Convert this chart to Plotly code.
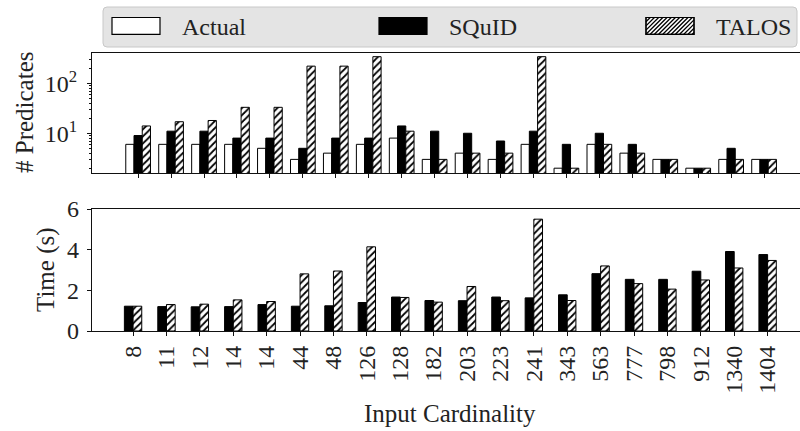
import plotly.graph_objects as go

# ---------------- data ----------------
labels = ["8", "11", "12", "14", "14", "44", "48", "126", "128", "182",
          "203", "223", "241", "343", "563", "777", "798", "912", "1340", "1404"]
pred_actual = [6, 6, 6, 6, 5, 3, 4, 6, 8, 3, 4, 3, 6, 2, 6, 4, 3, 2, 3, 3]
pred_squid = [9, 11, 11, 8, 8, 5, 8, 8, 14, 11, 10, 7, 11, 6, 10, 6, 3, 2, 5, 3]
pred_talos = [14, 17, 18, 33, 33, 220, 220, 340, 11, 3, 4, 4, 340, 2, 6, 4, 3, 2, 3, 3]
time_squid = [1.22, 1.20, 1.19, 1.20, 1.30, 1.22, 1.24, 1.40, 1.67, 1.50,
              1.49, 1.67, 1.63, 1.78, 2.82, 2.54, 2.54, 2.94, 3.91, 3.76]
time_talos = [1.22, 1.30, 1.32, 1.53, 1.45, 2.81, 2.95, 4.14, 1.65, 1.42,
              2.19, 1.49, 5.50, 1.50, 3.20, 2.33, 2.06, 2.51, 3.10, 3.47]
series_names = ["Actual", "SQuID", "TALOS"]

idx = list(range(len(labels)))

W, H = 800, 431
FONT = "Liberation Serif"
FS = 24


def px(x):
    return x / W


def py(y):
    return 1 - y / H


edge = dict(color="black", width=1)
hatch = dict(shape="/", fgcolor="black", bgcolor="white", size=5, solidity=0.35, fillmode="replace")

fig = go.Figure()
# top panel: predicates
fig.add_trace(go.Bar(x=idx, y=pred_actual, width=0.25, offset=-0.375, name=series_names[0],
                     marker=dict(color="white", line=edge), xaxis="x", yaxis="y", showlegend=False))
fig.add_trace(go.Bar(x=idx, y=pred_squid, width=0.25, offset=-0.125, name=series_names[1],
                     marker=dict(color="black", line=edge), xaxis="x", yaxis="y", showlegend=False))
fig.add_trace(go.Bar(x=idx, y=pred_talos, width=0.25, offset=0.125, name=series_names[2],
                     marker=dict(color="white", line=edge, pattern=hatch), xaxis="x", yaxis="y", showlegend=False))
# bottom panel: time
fig.add_trace(go.Bar(x=idx, y=time_squid, width=0.26, offset=-0.26, name=series_names[1],
                     marker=dict(color="black", line=edge), xaxis="x2", yaxis="y2", showlegend=False))
fig.add_trace(go.Bar(x=idx, y=time_talos, width=0.26, offset=0.0, name=series_names[2],
                     marker=dict(color="white", line=edge, pattern=hatch), xaxis="x2", yaxis="y2", showlegend=False))

axis_common = dict(showgrid=False, zeroline=False, showline=True, linecolor="#111", linewidth=1.3,
                   ticks="outside", ticklen=4, tickwidth=1.2, tickcolor="#111", automargin=False,
                   tickfont=dict(family=FONT, size=FS, color="#222"))

minor_vals = [v * m for m in (1, 10, 100) for v in range(2, 10) if 1.6 < v * m < 398]

fig.update_layout(
    width=W, height=H,
    margin=dict(l=0, r=0, t=0, b=0, autoexpand=False),
    paper_bgcolor="white", plot_bgcolor="white",
    barmode="overlay",
    font=dict(family=FONT, size=FS, color="#222"),
    xaxis=dict(domain=[px(92), 1], range=[-1.40, 20.09], anchor="y", tickmode="array",
               tickvals=idx, showticklabels=False, mirror=True, **axis_common),
    yaxis=dict(domain=[py(173), py(53)], type="log", range=[0.205, 2.605], anchor="x",
               tickmode="array", tickvals=[10, 100], ticktext=["10<sup>1</sup>", "10<sup>2</sup>"],
               ticklabelstandoff=5,
               minor=dict(tickmode="array", tickvals=minor_vals, ticks="outside", ticklen=2,
                          tickcolor="#111", tickwidth=1),
               **axis_common),
    xaxis2=dict(domain=[px(92), 1], range=[-1.23, 19.97], anchor="y2", tickmode="array",
                tickvals=idx, ticktext=labels, tickangle=-90, mirror=True, **axis_common),
    yaxis2=dict(domain=[py(331), py(209)], range=[0, 6], anchor="x2", tickmode="array",
                tickvals=[0, 2, 4, 6], ticklabelstandoff=3, **axis_common),
)

annotations = [
    dict(text="# Predicates", x=px(25), y=py(113), textangle=-90),
    dict(text="Time (s)", x=px(46), y=py(270), textangle=-90),
    dict(text="Input Cardinality", x=px(450), y=py(413)),
]
for a in annotations:
    a.update(xref="paper", yref="paper", showarrow=False, xanchor="center", yanchor="middle",
             font=dict(family=FONT, size=25, color="#222"))

# ---- legend (drawn manually to mimic the boxed, expanded legend) ----
shapes = []
bx0, bx1, by0, by1, r = 103, 797, 7, 47, 4
path = (f"M {px(bx0 + r)},{py(by0)} L {px(bx1 - r)},{py(by0)} "
        f"Q {px(bx1)},{py(by0)} {px(bx1)},{py(by0 + r)} L {px(bx1)},{py(by1 - r)} "
        f"Q {px(bx1)},{py(by1)} {px(bx1 - r)},{py(by1)} L {px(bx0 + r)},{py(by1)} "
        f"Q {px(bx0)},{py(by1)} {px(bx0)},{py(by1 - r)} L {px(bx0)},{py(by0 + r)} "
        f"Q {px(bx0)},{py(by0)} {px(bx0 + r)},{py(by0)} Z")
shapes.append(dict(type="path", path=path, xref="paper", yref="paper",
                   fillcolor="#e4e4e4", line=dict(color="#c8c8c8", width=1), layer="above"))

pw, p_y0, p_y1 = 48, 17.5, 34.3
col_x = [112, 379, 646]
fills = ["white", "black", "white"]
for cx, fc in zip(col_x, fills):
    shapes.append(dict(type="rect", xref="paper", yref="paper", x0=px(cx), x1=px(cx + pw),
                       y0=py(p_y1), y1=py(p_y0), fillcolor=fc, line=dict(color="black", width=1.2),
                       layer="above"))
# hatch in TALOS patch
hx0, hx1 = col_x[2], col_x[2] + pw
h = p_y1 - p_y0
c = hx0 - h
while c < hx1:
    sx, sy = c, p_y1
    ex, ey = c + h, p_y0
    if sx < hx0:
        sy = p_y1 - (hx0 - sx)
        sx = hx0
    if ex > hx1:
        ey = p_y0 + (ex - hx1)
        ex = hx1
    if ex > sx:
        shapes.append(dict(type="line", xref="paper", yref="paper", x0=px(sx), y0=py(sy),
                           x1=px(ex), y1=py(ey), line=dict(color="black", width=1.3), layer="above"))
    c += 4.2
# redraw border on top of hatch
shapes.append(dict(type="rect", xref="paper", yref="paper", x0=px(hx0), x1=px(hx1),
                   y0=py(p_y1), y1=py(p_y0), line=dict(color="black", width=1.2), layer="above"))

for cx, name in zip(col_x, series_names):
    annotations.append(dict(text=name, x=px(cx + pw + 20), y=py(27), xref="paper", yref="paper",
                            showarrow=False, xanchor="left", yanchor="middle",
                            font=dict(family=FONT, size=FS, color="#222")))

fig.update_layout(shapes=shapes, annotations=annotations)
fig.write_html("out.html", config={"displayModeBar": False},
               post_script="document.body.style.margin='0';")
